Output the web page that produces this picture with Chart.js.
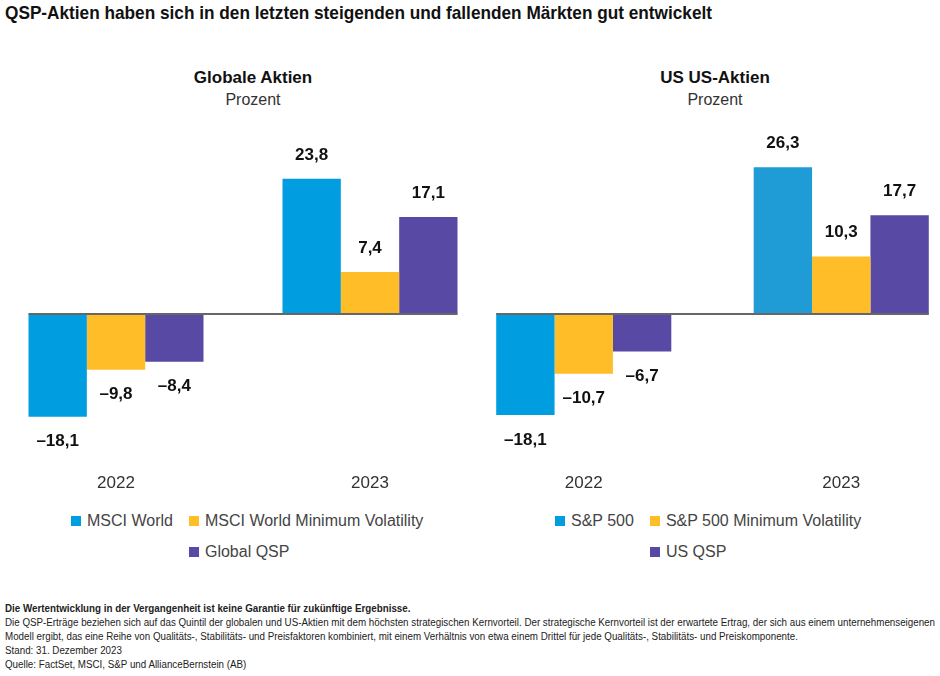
<!DOCTYPE html>
<html lang="de">
<head>
<meta charset="utf-8">
<script src="https://cdn.jsdelivr.net/npm/chart.js@4"></script>
<style>
  body { margin: 0; width: 940px; height: 676px; overflow: hidden; background: #fff; position: relative;
         font-family: "Liberation Sans", Arial, sans-serif; color: #222; }
  .abs { position: absolute; }
  #title { left: 5px; top: 2px; font: bold 19px/22px "Liberation Sans", Arial, sans-serif; color: #111; white-space: nowrap; transform-origin: 0 0; }
  .sub { text-align: center; width: 300px; white-space: nowrap; }
  .sub b { display: block; font-size: 17px; line-height: 20px; color: #111; }
  .sub span { display: block; font-size: 16px; line-height: 19px; color: #333; margin-top: 2px; }
  .legend { display: grid; grid-template-columns: auto auto; column-gap: 16px; row-gap: 12px; font-size: 16px; line-height: 19px; color: #444; }
  .legend div { display: flex; align-items: center; white-space: nowrap; }
  .legend i { width: 10px; height: 10px; margin-right: 6px; display: inline-block; }
  #notes { left: 5px; top: 602px; font: 10px/14px "Liberation Sans", Arial, sans-serif; color: #222; white-space: nowrap; transform-origin: 0 0; }
  #notes div { display: table; }
</style>
</head>
<body>
<div id="title" class="abs">QSP-Aktien haben sich in den letzten steigenden und fallenden Märkten gut entwickelt</div>

<div class="abs sub" style="left:103px; top:68px;"><b>Globale Aktien</b><span>Prozent</span></div>
<div class="abs sub" style="left:565px; top:68px;"><b>US US-Aktien</b><span>Prozent</span></div>

<div class="abs" style="left:-11px; top:130px;"><canvas id="globalChart" width="508" height="368"></canvas></div>
<div class="abs" style="left:455px; top:130px;"><canvas id="usChart" width="515" height="368"></canvas></div>

<div id="globalLegend" class="abs legend" style="left:71px; top:511px;"></div>
<div id="usLegend" class="abs legend" style="left:555px; top:511px;"></div>

<div id="notes" class="abs">
  <div><b>Die Wertentwicklung in der Vergangenheit ist keine Garantie für zukünftige Ergebnisse.</b></div>
  <div id="longLine">Die QSP-Erträge beziehen sich auf das Quintil der globalen und US-Aktien mit dem höchsten strategischen Kernvorteil. Der strategische Kernvorteil ist der erwartete Ertrag, der sich aus einem unternehmenseigenen</div>
  <div>Modell ergibt, das eine Reihe von Qualitäts-, Stabilitäts- und Preisfaktoren kombiniert, mit einem Verhältnis von etwa einem Drittel für jede Qualitäts-, Stabilitäts- und Preiskomponente.</div>
  <div>Stand: 31. Dezember 2023</div>
  <div>Quelle: FactSet, MSCI, S&amp;P und AllianceBernstein (AB)</div>
</div>

<script>
const years = ["2022", "2023"];

const globalNames = ["MSCI World", "MSCI World Minimum Volatility", "Global QSP"];
const globalMsciWorld = [-18.1, 23.8];
const globalMinVol = [-9.8, 7.4];
const globalQsp = [-8.4, 17.1];

const usNames = ["S&P 500", "S&P 500 Minimum Volatility", "US QSP"];
const usSp500 = [-18.1, 26.3];
const usMinVol = [-10.7, 10.3];
const usQsp = [-6.7, 17.7];

const BLUE = "#009ee0";
const YELLOW = "#ffbe27";
const PURPLE = "#5849a5";

Chart.defaults.font.family = '"Liberation Sans", Arial, sans-serif';

function fmt(v) {
  const s = Math.abs(v).toFixed(1).replace(".", ",");
  return v < 0 ? "–" + s : s;
}

// value labels + zero line across the bars
const barLabels = {
  id: "barLabels",
  afterDatasetsDraw(chart) {
    const ctx = chart.ctx;
    const y0 = chart.scales.y.getPixelForValue(0);
    let left = Infinity, right = -Infinity;
    chart.data.datasets.forEach((ds, i) => {
      chart.getDatasetMeta(i).data.forEach((bar) => {
        left = Math.min(left, bar.x - bar.width / 2);
        right = Math.max(right, bar.x + bar.width / 2);
      });
    });

    ctx.save();
    ctx.strokeStyle = "#666";
    ctx.lineWidth = 2;
    ctx.beginPath();
    ctx.moveTo(left, y0);
    ctx.lineTo(right, y0);
    ctx.stroke();

    ctx.fillStyle = "#111";
    ctx.font = 'bold 17px "Liberation Sans", Arial, sans-serif';
    ctx.textAlign = "center";
    ctx.textBaseline = "middle";
    chart.data.datasets.forEach((ds, i) => {
      chart.getDatasetMeta(i).data.forEach((bar, j) => {
        const v = ds.data[j];
        const y = v >= 0 ? bar.y - 24 : bar.y + 25;
        ctx.fillText(fmt(v), bar.x, y);
      });
    });
    ctx.restore();
  },
};

function makeChart(id, names, series, colors, catPct, yMin, yMax) {
  return new Chart(document.getElementById(id), {
    type: "bar",
    data: {
      labels: years,
      datasets: series.map((data, i) => ({
        label: names[i],
        data,
        backgroundColor: colors[i],
        borderWidth: 0,
        barPercentage: 1,
        categoryPercentage: catPct,
      })),
    },
    options: {
      responsive: false,
      animation: false,
      devicePixelRatio: 1,
      layout: { padding: 0 },
      plugins: { legend: { display: false }, tooltip: { enabled: false } },
      scales: {
        x: {
          offset: true,
          grid: { display: false, drawTicks: false },
          border: { display: false },
          ticks: { color: "#333", font: { size: 17 }, padding: 4 },
        },
        y: { display: false, min: yMin, max: yMax },
      },
    },
    plugins: [barLabels],
  });
}

function makeLegend(id, names, colors) {
  const box = document.getElementById(id);
  names.forEach((name, i) => {
    const item = document.createElement("div");
    if (i === 2) item.style.gridColumn = "2";
    item.innerHTML = `<i style="background:${colors[i]}"></i>${name}`;
    box.appendChild(item);
  });
}

// squeeze the condensed-looking texts to the reference widths
function fitWidth(el, measure, target) {
  const w = measure.getBoundingClientRect().width;
  el.style.transform = `scaleX(${target / w})`;
}

makeChart("globalChart", globalNames, [globalMsciWorld, globalMinVol, globalQsp],
  [BLUE, YELLOW, PURPLE], 0.689, -27.4, 32.4);
makeChart("usChart", usNames, [usSp500, usMinVol, usQsp],
  [[BLUE, "#1f9bd6"], YELLOW, PURPLE], 0.68, -27.9, 33.0);

makeLegend("globalLegend", globalNames, [BLUE, YELLOW, PURPLE]);
makeLegend("usLegend", usNames, [BLUE, YELLOW, PURPLE]);

const title = document.getElementById("title");
fitWidth(title, title, 707);
const notes = document.getElementById("notes");
fitWidth(notes, document.getElementById("longLine"), 930);
</script>
</body>
</html>
